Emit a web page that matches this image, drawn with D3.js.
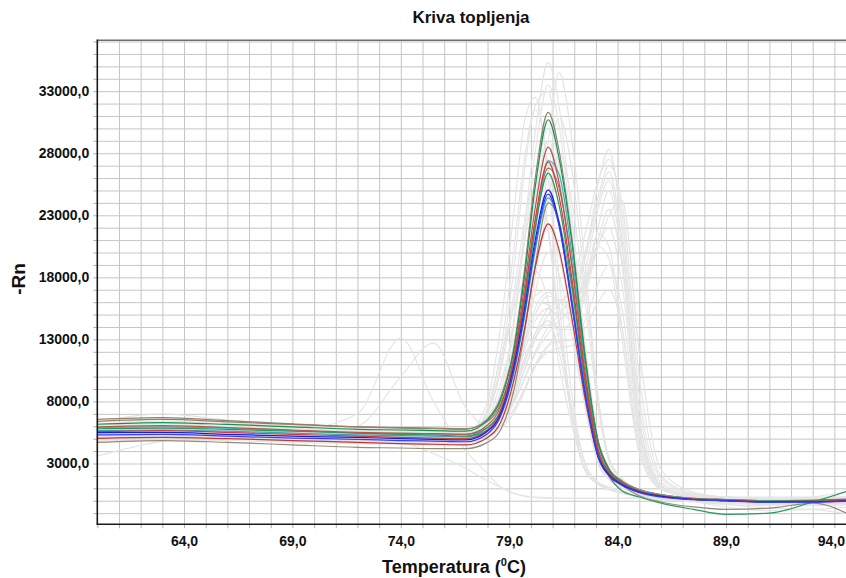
<!DOCTYPE html>
<html>
<head>
<meta charset="utf-8">
<script src="https://cdn.jsdelivr.net/npm/d3@7"></script>
<style>
html,body{margin:0;padding:0;background:#fff;}
svg{display:block;}
text{font-family:"Liberation Sans",Arial,Helvetica,sans-serif;font-weight:bold;fill:#111;}
</style>
</head>
<body>
<svg id="chart" width="846" height="578"></svg>
<script>
// ---- Data (temperature in °C, -Rn values) ----
const temps = [60, 63, 66, 69, 72, 74, 75.5, 77, 78, 78.6, 79.2, 79.7, 80.2, 80.8, 81.3, 81.9, 82.5, 83.1, 83.6, 84.2, 85, 86, 87.5, 89, 91, 93, 95];

const xTickLabels = [64, 69, 74, 79, 84, 89, 94];
const yTickLabels = [3000, 8000, 13000, 18000, 23000, 28000, 33000];

// highlighted wells
const c01 = [6560, 6700, 6450, 6200, 5950, 5850, 5800, 5750, 6600, 8300, 12200, 18500, 26000, 31300, 28200, 21000, 11800, 4800, 2600, 1600, 900, 500, 200, 100, 0, 50, 150];
const c10 = [4700, 4850, 4700, 4500, 4300, 4250, 4200, 4200, 4700, 5700, 8800, 13500, 19000, 24000, 22500, 17000, 10000, 4600, 2500, 1300, 400, -100, -500, -700, -600, -200, -1400];
const c12 = [6400, 6550, 6350, 6150, 5950, 5900, 5850, 5800, 6400, 7800, 11300, 16500, 22500, 26800, 25200, 19000, 11000, 4800, 2600, 1600, 900, 500, 200, 100, 0, 0, 100];
const c04 = [5900, 5950, 5850, 5650, 5450, 5400, 5400, 5350, 5900, 7200, 10800, 15800, 21800, 27400, 26300, 19800, 11200, 4600, 2400, 1500, 850, 450, 150, 50, 0, 0, 100];
const c09 = [5650, 5700, 5600, 5450, 5300, 5250, 5200, 5150, 5700, 6900, 10200, 14800, 20200, 24400, 22300, 16200, 9200, 3900, 2200, 1350, 750, 400, 130, 30, -70, -50, 50];
const c02 = [6160, 6300, 6150, 5950, 5750, 5700, 5650, 5600, 6500, 8100, 12000, 18000, 25300, 30700, 27600, 20700, 11500, 4700, 2500, 1500, 800, 400, 150, 50, -50, 0, 100];
const c06 = [5800, 5850, 5750, 5600, 5450, 5350, 5300, 5200, 5900, 7300, 11000, 16000, 22000, 26400, 23800, 17300, 9500, 3800, 2000, 800, 300, -200, -700, -1100, -1000, -100, 1000];
const c03 = [5960, 6050, 5900, 5700, 5500, 5450, 5400, 5350, 6100, 7600, 11500, 17200, 23600, 28500, 25600, 18800, 10300, 4200, 2300, 1400, 800, 400, 150, 50, -50, -50, 50];
const c05 = [5560, 5650, 5500, 5350, 5200, 5100, 5050, 5000, 5700, 7200, 11100, 16400, 22700, 27300, 24500, 17800, 9800, 4000, 2200, 1400, 750, 380, 120, 20, -80, -60, 50];
const c11 = [5030, 5100, 5000, 4850, 4700, 4600, 4550, 4500, 5100, 6300, 9600, 13800, 18800, 22300, 20200, 14600, 8200, 3500, 2000, 1250, 700, 350, 100, 0, -100, -80, 30];
const c07 = [5480, 5500, 5350, 5200, 5100, 5000, 4950, 4900, 5600, 7000, 10700, 15400, 21000, 25050, 22400, 15800, 8700, 3600, 2100, 1300, 700, 350, 100, 0, -100, -100, 0];
const c08 = [5300, 5350, 5200, 5050, 4950, 4850, 4800, 4750, 5400, 6800, 10400, 15000, 20600, 24700, 22100, 15600, 8600, 3500, 2000, 1250, 650, 300, 80, -20, -120, -120, -20];

// other wells (grey)
const g01 = [6300, 7000, 6500, 6100, 5900, 5850, 5800, 5800, 6800, 8800, 14500, 21900, 29700, 35300, 31800, 22600, 12700, 5000, 2600, 1500, 800, 400, 200, 100, 50, 50, 150];
const g02 = [5900, 6000, 5800, 5600, 5400, 5300, 5250, 5200, 6200, 7500, 10500, 14500, 21400, 29000, 34500, 29000, 19000, 8500, 3500, 1800, 900, 400, 200, 100, 0, 0, 100];
const g03 = [5200, 5300, 5200, 5000, 4900, 4800, 4750, 4700, 5800, 8000, 14000, 20800, 28100, 33500, 30200, 21400, 12000, 4700, 2400, 1400, 700, 300, 100, 0, -100, -100, 0];
const g04 = [5600, 5700, 5600, 5500, 5400, 5350, 5300, 5400, 8000, 14000, 23000, 30500, 32500, 26000, 16000, 7000, 2500, 1500, 1100, 800, 500, 300, 100, 0, 0, -50, 50];
const g05 = [5000, 5200, 5100, 5000, 4900, 4900, 4900, 5000, 7200, 12000, 20000, 27500, 31500, 27000, 18000, 8500, 3000, 1500, 1000, 700, 400, 200, 0, -200, -300, -300, -200];
const g06 = [5700, 5800, 5700, 5500, 5300, 5250, 5200, 5150, 6000, 7800, 12600, 18600, 25200, 30000, 27000, 19200, 10800, 4200, 2300, 1300, 700, 350, 150, 50, 0, 0, 100];
const g07 = [5400, 5500, 5400, 5250, 5100, 5050, 5000, 4950, 5600, 6800, 9000, 12500, 18000, 24000, 28000, 24000, 16000, 7500, 3200, 1700, 900, 450, 200, 100, 0, 0, 100];
const g08 = [6000, 6100, 6000, 5800, 5600, 5500, 5450, 5400, 7000, 10500, 16500, 22500, 26000, 22000, 14500, 7000, 2600, 1400, 1000, 700, 400, 200, 100, 0, -100, -100, 0];
const g09 = [5100, 5200, 5100, 4950, 4800, 4750, 4700, 4650, 5500, 7000, 9800, 14000, 18600, 22000, 19800, 14100, 7900, 3100, 1800, 1100, 600, 300, 0, -300, -600, -700, -1200];
const g10 = [4900, 5000, 4950, 4800, 4700, 4650, 4600, 4600, 7500, 11500, 15500, 17800, 18500, 16000, 11000, 6000, 2500, 1300, 900, 600, 300, 100, -100, -300, -400, -400, -300];
const g11 = [5300, 5400, 5300, 5200, 5100, 5050, 5000, 5000, 6500, 9500, 13000, 15200, 16000, 15800, 13000, 7500, 3000, 1500, 1000, 700, 400, 200, 100, 0, 0, 0, 100];
const g12 = [5800, 6200, 6000, 5800, 5600, 5500, 5450, 5500, 7200, 11000, 18500, 26500, 31800, 33000, 27000, 17000, 8000, 3000, 1700, 1100, 600, 300, 100, 0, -50, -50, 50];
const g13 = [6000, 6600, 6300, 6000, 5800, 5700, 5650, 5600, 6500, 8400, 12500, 18000, 24400, 29000, 26100, 18600, 10400, 4000, 2200, 1300, 700, 350, 150, 50, 0, 0, 100];
const g14 = [5500, 5600, 5500, 5400, 5300, 5250, 5200, 5200, 7000, 10500, 15800, 21000, 24500, 21500, 14000, 6500, 2400, 1300, 900, 600, 350, 150, 0, -150, -250, -250, -150];
const g15 = [4800, 4900, 4850, 4700, 4600, 4550, 4500, 4500, 5300, 6600, 9000, 12500, 16800, 20000, 18200, 13200, 7500, 3000, 1700, 1000, 550, 250, 50, -100, -200, -200, -100];
const g16 = [6200, 6400, 6200, 6000, 5800, 5700, 5650, 5600, 6300, 7600, 10200, 13800, 20000, 26500, 31000, 26500, 17500, 8000, 3300, 1700, 850, 400, 200, 100, 0, 0, 100];
const h01 = [5800, 5900, 5800, 5600, 5400, 5300, 5250, 5200, 5900, 7200, 9500, 12500, 15000, 16500, 16200, 16000, 19500, 25500, 28300, 22000, 7500, 1500, 500, 300, 200, 200, 300];
const h02 = [5500, 5600, 5500, 5350, 5200, 5100, 5050, 5000, 5400, 6200, 7800, 9800, 12000, 14000, 15000, 16500, 19500, 24000, 26500, 21000, 6500, 1300, 400, 200, 100, 300, 900];
const h03 = [6100, 6200, 6100, 5900, 5700, 5600, 5550, 5500, 6500, 8500, 11500, 14500, 16500, 17000, 15500, 14500, 17000, 22000, 25000, 19500, 5500, 1100, 300, 100, 0, 0, 100];
const h04 = [5000, 5100, 5000, 4900, 4800, 4750, 4700, 4700, 5100, 5800, 7000, 8800, 10800, 12500, 13500, 14500, 17000, 21000, 23500, 19000, 6000, 1200, 0, -500, -800, -700, -500];
const h05 = [5400, 5500, 5400, 5300, 5200, 5150, 5100, 5100, 5800, 7000, 9000, 11500, 13500, 14500, 14000, 14000, 17500, 21500, 20500, 14000, 4000, 900, 300, 100, 0, 0, 100];
const h06 = [5200, 5300, 5200, 5100, 5000, 4950, 4900, 4900, 5300, 6000, 7300, 9000, 11000, 12500, 12800, 13000, 14500, 17500, 19000, 15500, 5000, 1000, 300, 100, 0, 0, 100];
const h07 = [5600, 5700, 5600, 5450, 5300, 5200, 5150, 5100, 5800, 6800, 8500, 11000, 13500, 15500, 16000, 17000, 20000, 24500, 27000, 24000, 10000, 2000, 600, 300, 200, 200, 300];
const h08 = [5700, 5800, 5700, 5550, 5400, 5300, 5250, 5200, 5700, 6600, 8200, 10500, 13000, 15000, 15800, 17500, 21500, 25800, 27500, 23000, 8500, 1800, 500, 250, 150, 150, 250];
const h09 = [5300, 5400, 5300, 5200, 5100, 5050, 5000, 5000, 5700, 7200, 9800, 12800, 15500, 16800, 16000, 15500, 18500, 23500, 25800, 20500, 6500, 1300, 400, 200, 100, 100, 200];
const h10 = [5900, 6000, 5900, 5700, 5500, 5400, 5350, 5300, 5800, 6700, 8000, 9800, 11800, 13500, 14500, 15500, 17500, 20500, 23000, 24200, 12000, 2500, 700, 300, 200, 200, 300];
const h11 = [5100, 5200, 5100, 5000, 4900, 4850, 4800, 4800, 5500, 6800, 8800, 11200, 13200, 14200, 13800, 13800, 16500, 20500, 22000, 17500, 5500, 1100, 300, 100, 0, 0, 100];
const h12 = [5600, 5700, 5600, 5450, 5300, 5250, 5200, 5200, 5900, 7300, 9500, 12000, 14500, 15500, 15000, 15200, 18000, 20500, 19500, 13000, 3800, 900, 300, 100, 0, 0, 100];
const h13 = [5000, 5100, 5000, 4900, 4800, 4750, 4700, 4700, 5200, 6000, 7300, 9000, 10800, 12000, 12300, 12500, 13800, 16000, 17000, 14000, 4500, 1000, 300, 100, 0, 0, 100];
const n01 = [3600, 4800, 5300, 5600, 7000, 13100, 8000, 4000, 2200, 1100, 600, 400, 300, 250, 200, 200, 200, 200, 200, 200, 200, 150, 100, 100, 100, 100, 150];
const n02 = [5200, 5300, 5300, 5300, 6000, 10000, 12700, 7500, 6000, 6500, 8000, 10500, 13000, 14500, 12000, 7000, 3000, 1400, 900, 600, 400, 200, 100, 0, 0, 0, 100];
const n03 = [5000, 5100, 5100, 5000, 4900, 4700, 3800, 2600, 1600, 1100, 600, 350, 250, 200, 200, 200, 200, 200, 200, 200, 250, 300, 300, 300, 300, 300, 300];

const greyWells = [g01, g02, g03, g04, g05, g06, g07, g08, g09, g10, g11, g12, g13, g14, g15, g16,
  h01, h02, h03, h04, h05, h06, h07, h08, h09, h10, h11, h12, h13, n01, n02, n03];
const colouredWells = [c01, c10, c12, c04, c09, c02, c06, c03, c05, c11, c07, c08];
const colouredStroke = ["#8a8672", "#948c78", "#a07a62", "#3db3c4", "#33a6b8", "#17934f", "#2a9a5e", "#b5574b", "#d23c3c", "#c63535", "#1a1ae6", "#3340f0"];

// ---- Layout ----
const L = 97.3, R = 856.1, T = 40.3, B = 524.3;
const svg = d3.select("#chart");
const x = d3.scaleLinear().domain([60, 95]).range([L, R]);
const y = d3.scaleLinear().domain([-1900, 37100]).range([B, T]);

svg.append("rect").attr("width", 846).attr("height", 578).attr("fill", "#fff");

svg.append("defs").append("clipPath").attr("id", "plotClip")
  .append("rect").attr("x", L).attr("y", T).attr("width", R - L).attr("height", B - T);

// grid lines
svg.append("g").attr("transform", `translate(0,${B})`)
  .call(d3.axisBottom(x).tickValues(d3.range(61, 95, 1)).tickSize(-(B - T)).tickFormat(""))
  .call(g => g.select(".domain").remove())
  .call(g => g.selectAll("line").attr("stroke", "#c6c6c6").attr("stroke-width", 1));
svg.append("g").attr("transform", `translate(${L},0)`)
  .call(d3.axisLeft(y).tickValues(d3.range(-1000, 37001, 1000)).tickSize(-(846 - L)).tickFormat(""))
  .call(g => g.select(".domain").remove())
  .call(g => g.selectAll("line").attr("stroke", "#c6c6c6").attr("stroke-width", 1));

// small outer ticks
svg.append("g").attr("transform", `translate(0,${B})`)
  .call(d3.axisBottom(x).tickValues(d3.range(60, 96, 1)).tickSize(4).tickFormat(""))
  .call(g => g.select(".domain").remove())
  .call(g => g.selectAll("line").attr("stroke", "#b0b0b0"));
svg.append("g").attr("transform", `translate(${L},0)`)
  .call(d3.axisLeft(y).tickValues(d3.range(-1000, 37001, 1000)).tickSize(4).tickFormat(""))
  .call(g => g.select(".domain").remove())
  .call(g => g.selectAll("line").attr("stroke", "#b0b0b0"));

// curves
const line = d3.line()
  .x((d, i) => x(temps[i]))
  .y(d => y(d))
  .curve(d3.curveMonotoneX);

const plot = svg.append("g").attr("clip-path", "url(#plotClip)");
plot.selectAll("path.grey").data(greyWells).join("path")
  .attr("class", "grey")
  .attr("d", line)
  .attr("fill", "none")
  .attr("stroke", "#e4e4e4")
  .attr("stroke-width", 1.1);
plot.selectAll("path.well").data(colouredWells).join("path")
  .attr("class", "well")
  .attr("d", line)
  .attr("fill", "none")
  .attr("stroke", (d, i) => colouredStroke[i])
  .attr("stroke-width", 1.2);

// frame
svg.append("line").attr("x1", L).attr("x2", 846).attr("y1", T).attr("y2", T)
  .attr("stroke", "#6e6e6e").attr("stroke-width", 1.6);
svg.append("line").attr("x1", L).attr("x2", L).attr("y1", T - 0.8).attr("y2", B)
  .attr("stroke", "#1a1a1a").attr("stroke-width", 1.6);
svg.append("line").attr("x1", L - 0.8).attr("x2", 846).attr("y1", B).attr("y2", B)
  .attr("stroke", "#1a1a1a").attr("stroke-width", 1.6);

// tick labels
const fmt = d => d3.format(".1f")(d).replace(".", ",");
svg.append("g").attr("transform", `translate(${L},0)`)
  .call(d3.axisLeft(y).tickValues(yTickLabels).tickSize(0).tickPadding(8).tickFormat(fmt))
  .call(g => g.select(".domain").remove())
  .call(g => g.selectAll("text").attr("font-size", 14).attr("font-family", "Liberation Sans, Arial, sans-serif").attr("font-weight", "bold").attr("fill", "#111"));
svg.append("g").attr("transform", `translate(0,${B})`)
  .call(d3.axisBottom(x).tickValues(xTickLabels).tickSize(0).tickPadding(11.5).tickFormat(fmt))
  .call(g => g.select(".domain").remove())
  .call(g => g.selectAll("text").attr("font-size", 14).attr("font-family", "Liberation Sans, Arial, sans-serif").attr("font-weight", "bold").attr("fill", "#111"))
  .call(g => g.selectAll("text").filter(d => d === 94).attr("x", -3.5));

// titles
svg.append("text").attr("x", 471).attr("y", 23).attr("text-anchor", "middle")
  .attr("font-size", 17).text("Kriva topljenja");
svg.append("text").attr("transform", "translate(25,279) rotate(-90)").attr("text-anchor", "middle")
  .attr("font-size", 19).text("-Rn");
const xl = svg.append("text").attr("x", 454).attr("y", 573).attr("text-anchor", "middle").attr("font-size", 18);
xl.append("tspan").text("Temperatura (");
xl.append("tspan").attr("font-size", 11).attr("dy", -7).text("0");
xl.append("tspan").attr("dy", 7).text("C)");
</script>
</body>
</html>
